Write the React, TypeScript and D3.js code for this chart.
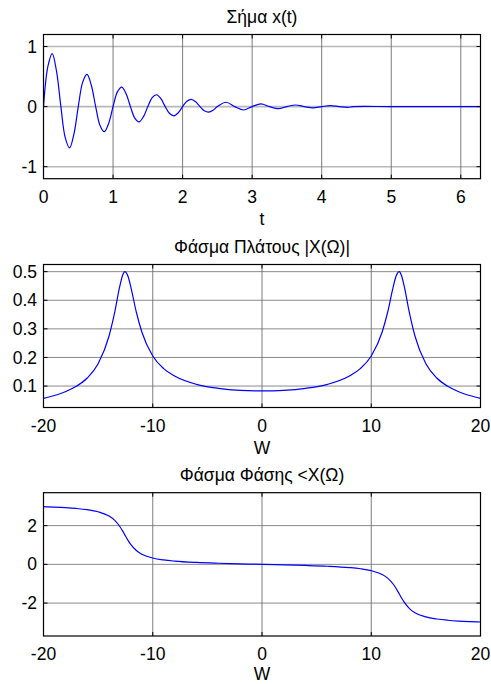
import React from 'react';
import * as d3 from 'd3';

// ---- Data ----
const tValues = [
  0, 0.0625, 0.125, 0.1875, 0.25, 0.3125, 0.375, 0.4375, 0.5, 0.5625, 0.625, 0.6875,
  0.75, 0.8125, 0.875, 0.9375, 1.0, 1.0625, 1.125, 1.1875, 1.25, 1.3125, 1.375, 1.4375,
  1.5, 1.5625, 1.625, 1.6875, 1.75, 1.8125, 1.875, 1.9375, 2.0, 2.0625, 2.125, 2.1875,
  2.25, 2.3125, 2.375, 2.4375, 2.5, 2.625, 2.75, 2.875, 3.0, 3.125, 3.25, 3.375, 3.5,
  3.625, 3.75, 3.875, 4.0, 4.125, 4.25, 4.375, 4.45, 5.0, 5.5, 6.0, 6.2832,
];
const xValues = [
  0, 0.664, 0.8825, 0.5862, 0, -0.5173, -0.6873, -0.4565, 0, 0.4029, 0.5353, 0.3555,
  0, -0.3138, -0.4169, -0.2769, 0, 0.2444, 0.3247, 0.2157, 0, -0.1903, -0.2528, -0.1679,
  0, 0.1482, 0.1969, 0.1308, 0, -0.1154, -0.1534, -0.1019, 0, 0.0899, 0.1194, 0.0793,
  0, -0.07, -0.093, -0.0618, 0, 0.072, 0, -0.0564, 0, 0.0439, 0, -0.0342, 0,
  0.0267, 0, -0.0208, 0, 0.0162, 0, -0.0126, 0, 0, 0, 0, 0,
];

const wValues = [
  -20, -19, -18, -17, -16, -15, -14, -13.5, -13, -12.75, -12.57, -12.25, -12, -11.5, -11,
  -10, -9, -8, -6, -4, -2, 0, 2, 4, 6, 8, 9, 10, 11, 11.5, 12, 12.25, 12.57, 12.75, 13,
  13.5, 14, 15, 16, 17, 18, 19, 20,
];
const magValues = [
  0.057, 0.067, 0.08, 0.099, 0.128, 0.178, 0.275, 0.355, 0.452, 0.488, 0.5, 0.482, 0.445,
  0.358, 0.289, 0.205, 0.161, 0.135, 0.106, 0.092, 0.085, 0.083, 0.085, 0.092, 0.106, 0.135,
  0.161, 0.205, 0.289, 0.358, 0.445, 0.482, 0.5, 0.488, 0.452, 0.355, 0.275, 0.178, 0.128,
  0.099, 0.08, 0.067, 0.057,
];
const phaseValues = [
  2.977, 2.956, 2.927, 2.886, 2.823, 2.715, 2.495, 2.284, 1.941, 1.713, 1.535, 1.224, 1.015,
  0.712, 0.526, 0.328, 0.227, 0.167, 0.097, 0.056, 0.026, 0, -0.026, -0.056, -0.097, -0.167,
  -0.227, -0.328, -0.526, -0.712, -1.015, -1.224, -1.535, -1.713, -1.941, -2.284, -2.495,
  -2.715, -2.823, -2.886, -2.927, -2.956, -2.977,
];

const signalXTicks = [0, 1, 2, 3, 4, 5, 6];
const signalYTicks = [-1, 0, 1];
const spectrumXTicks = [-20, -10, 0, 10, 20];
const magYTicks = [0.1, 0.2, 0.3, 0.4, 0.5];
const phaseYTicks = [-2, 0, 2];
const titles = ['Σήμα x(t)', 'Φάσμα Πλάτους |X(Ω)|', 'Φάσμα Φάσης <X(Ω)'];
const xLabels = ['t', 'W', 'W'];

// ---- Layout ----
const W = 491;
const H = 684;
const LEFT = 43.5;
const RIGHT = 480.5;
const FONT = "'Liberation Sans', Arial, Helvetica, sans-serif";
const FS = 17.5;

type PanelDef = {
  xs: number[];
  ys: number[];
  xDomain: [number, number];
  yDomain: [number, number];
  top: number;
  bottom: number;
  xTicks: number[];
  yTicks: number[];
  title: string;
  xLabel: string;
  labelGap: number;
  hGrid: { stroke: string; width: number };
  curve: d3.CurveFactory;
};

const panels: PanelDef[] = [
  {
    xs: tValues, ys: xValues, xDomain: [0, 2 * Math.PI], yDomain: [-1.2, 1.2],
    top: 34.5, bottom: 178.7, xTicks: signalXTicks, yTicks: signalYTicks,
    title: titles[0], xLabel: xLabels[0], labelGap: 46.5, hGrid: { stroke: '#b8b8b8', width: 1.6 },
    curve: d3.curveCatmullRom.alpha(0.5),
  },
  {
    xs: wValues, ys: magValues, xDomain: [-20, 20], yDomain: [0.025, 0.525],
    top: 264.5, bottom: 407.5, xTicks: spectrumXTicks, yTicks: magYTicks,
    title: titles[1], xLabel: xLabels[1], labelGap: 46.5, hGrid: { stroke: '#8a8a8a', width: 1 },
    curve: d3.curveMonotoneX,
  },
  {
    xs: wValues, ys: phaseValues, xDomain: [-20, 20], yDomain: [-3.7, 3.7],
    top: 492.7, bottom: 636, xTicks: spectrumXTicks, yTicks: phaseYTicks,
    title: titles[2], xLabel: xLabels[2], labelGap: 43.5, hGrid: { stroke: '#8a8a8a', width: 1 },
    curve: d3.curveMonotoneX,
  },
];

function Panel({ p, idx }: { p: PanelDef; idx: number }) {
  const x = d3.scaleLinear().domain(p.xDomain).range([LEFT, RIGHT]);
  const y = d3.scaleLinear().domain(p.yDomain).range([p.bottom, p.top]);
  const pts = p.xs.map((v, i) => [v, p.ys[i]] as [number, number]);
  const line = d3
    .line<[number, number]>()
    .x((d) => x(d[0]))
    .y((d) => y(d[1]))
    .curve(p.curve);
  const clipId = `clip-${idx}`;
  const tickLen = 4;
  const cx = (LEFT + RIGHT) / 2;
  return (
    <g>
      <defs>
        <clipPath id={clipId}>
          <rect x={LEFT} y={p.top} width={RIGHT - LEFT} height={p.bottom - p.top} />
        </clipPath>
      </defs>
      {p.yTicks.map((t) => (
        <line key={`hy${t}`} x1={LEFT} x2={RIGHT} y1={y(t)} y2={y(t)}
          stroke={p.hGrid.stroke} strokeWidth={p.hGrid.width} />
      ))}
      {p.xTicks.map((t) => (
        <line key={`vx${t}`} x1={x(t)} x2={x(t)} y1={p.top} y2={p.bottom}
          stroke="#6e6e6e" strokeWidth={0.9} />
      ))}
      <path d={line(pts) || ''} fill="none" stroke="#0000ff" strokeWidth={1.2}
        clipPath={`url(#${clipId})`} />
      {p.xTicks.map((t) => (
        <g key={`xt${t}`}>
          <line x1={x(t)} x2={x(t)} y1={p.bottom} y2={p.bottom - tickLen} stroke="#000" strokeWidth={1} />
          <line x1={x(t)} x2={x(t)} y1={p.top} y2={p.top + tickLen} stroke="#000" strokeWidth={1} />
          <text x={x(t)} y={p.bottom + 24} textAnchor="middle" fontFamily={FONT} fontSize={FS} fill="#000">
            {String(t)}
          </text>
        </g>
      ))}
      {p.yTicks.map((t) => (
        <g key={`yt${t}`}>
          <line x1={LEFT} x2={LEFT + tickLen} y1={y(t)} y2={y(t)} stroke="#000" strokeWidth={1} />
          <line x1={RIGHT} x2={RIGHT - tickLen} y1={y(t)} y2={y(t)} stroke="#000" strokeWidth={1} />
          <text x={LEFT - 6.5} y={y(t)} dy="0.35em" textAnchor="end" fontFamily={FONT} fontSize={FS} fill="#000">
            {String(t)}
          </text>
        </g>
      ))}
      <rect x={LEFT} y={p.top} width={RIGHT - LEFT} height={p.bottom - p.top}
        fill="none" stroke="#000" strokeWidth={1.2} />
      <text x={cx} y={p.top - 12} textAnchor="middle" fontFamily={FONT} fontSize={FS} fill="#000">
        {p.title}
      </text>
      <text x={cx} y={p.bottom + p.labelGap} textAnchor="middle" fontFamily={FONT} fontSize={FS} fill="#000">
        {p.xLabel}
      </text>
    </g>
  );
}

export default function App() {
  return (
    <svg width={W} height={H} viewBox={`0 0 ${W} ${H}`}
      style={{ position: 'absolute', left: 0, top: 0, background: '#fff' }}>
      <rect x={0} y={0} width={W} height={H} fill="#fff" />
      {panels.map((p, i) => (
        <Panel key={i} p={p} idx={i} />
      ))}
    </svg>
  );
}
